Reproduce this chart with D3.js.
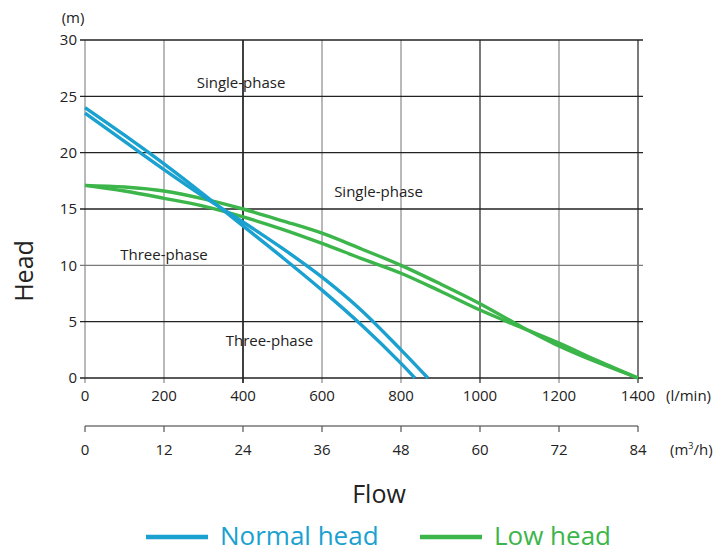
<!DOCTYPE html>
<html><head><meta charset="utf-8">
<script src="https://cdn.jsdelivr.net/npm/d3@7"></script>
<style>
body{margin:0;background:#fff;}
svg{display:block;font-family:"Open Sans",sans-serif;}
</style></head><body>
<svg id="c" width="723" height="552"></svg>
<script>
// ---- data ----
const flowTicks = [0,200,400,600,800,1000,1200,1400];
const m3hTicks = [0,12,24,36,48,60,72,84];
const headTicks = [0,5,10,15,20,25,30];
const normalA_flow = [0,100,200,300,400,500,600,700,800,835];
const normalA_head = [24,21.55,19.0,16.3,13.5,10.7,7.8,4.7,1.3,0];
const normalB_flow = [0,100,200,300,400,500,600,700,800,868];
const normalB_head = [23.5,21.0,18.5,16.1,13.85,11.5,8.95,6.0,2.5,0];
const lowA_flow = [0,100,200,300,400,500,600,700,800,900,1000,1100,1200,1300,1400];
const lowA_head = [17.1,16.95,16.6,15.9,15.0,13.95,12.85,11.45,10.0,8.35,6.6,4.65,2.85,1.35,0];
const lowB_flow = [0,100,200,300,400,500,600,700,800,900,1000,1100,1200,1300,1400];
const lowB_head = [17.1,16.6,15.95,15.25,14.3,13.2,11.95,10.6,9.3,7.7,6.03,4.55,3.1,1.5,0];
const regionLabels = [
  {text:"Single-phase", flow:395, head:26.2},
  {text:"Single-phase", flow:743, head:16.5},
  {text:"Three-phase", flow:200, head:10.9},
  {text:"Three-phase", flow:467, head:3.3}
];
const legendItems = [{name:"Normal head", color:"#1aa1cf"},{name:"Low head", color:"#3cb54a"}];

// ---- layout ----
const svg = d3.select("#c");
const L = 85, R = 638, T = 40, B = 378;
const x = d3.scaleLinear().domain([0,1400]).range([L,R]);
const x2 = d3.scaleLinear().domain([0,84]).range([L,R]);
const y = d3.scaleLinear().domain([0,30]).range([B,T]);

const darkV = new Set([400,1000,1400]);
const greyH = new Set([10]);
// vertical grid
svg.append("g").selectAll("line").data(flowTicks).join("line")
  .attr("x1",d=>x(d)).attr("x2",d=>x(d)).attr("y1",T).attr("y2",B+5)
  .attr("stroke",d=>d===400?"#111":(darkV.has(d)?"#222":"#8a8a8a"))
  .attr("stroke-width",d=>d===400?1.6:1.2);
// horizontal grid
svg.append("g").selectAll("line").data(headTicks).join("line")
  .attr("x1",L-5).attr("x2",R+5).attr("y1",d=>y(d)).attr("y2",d=>y(d))
  .attr("stroke",d=>greyH.has(d)?"#7a7a7a":"#222")
  .attr("stroke-width",1.3);

// axis labels
svg.append("g").selectAll("text").data(headTicks).join("text")
  .attr("x",L-8).attr("y",d=>y(d)).attr("dy","0.36em").attr("text-anchor","end")
  .attr("font-size",15).attr("fill","#222").text(d=>d);
svg.append("g").selectAll("text").data(flowTicks).join("text")
  .attr("x",d=>x(d)).attr("y",B+23).attr("text-anchor","middle")
  .attr("font-size",15).attr("fill","#222").text(d=>d);
svg.append("text").attr("x",R+28).attr("y",B+23).attr("font-size",15).attr("fill","#222").text("(l/min)");
svg.append("text").attr("x",73).attr("y",23).attr("text-anchor","middle").attr("font-size",15).attr("fill","#222").text("(m)");

// second axis
const ax2 = 426;
svg.append("line").attr("x1",L).attr("x2",R).attr("y1",ax2).attr("y2",ax2).attr("stroke","#777").attr("stroke-width",1.3);
svg.append("g").selectAll("line").data(m3hTicks).join("line")
  .attr("x1",d=>x2(d)).attr("x2",d=>x2(d)).attr("y1",ax2).attr("y2",ax2+6)
  .attr("stroke","#555").attr("stroke-width",1.2);
svg.append("g").selectAll("text").data(m3hTicks).join("text")
  .attr("x",d=>x2(d)).attr("y",ax2+29).attr("text-anchor","middle")
  .attr("font-size",15).attr("fill","#222").text(d=>d);
const mt = svg.append("text").attr("x",R+32).attr("y",ax2+29).attr("font-size",15).attr("fill","#222");
mt.append("tspan").text("(m");
mt.append("tspan").attr("dy",-6).attr("font-size",9).text("3");
mt.append("tspan").attr("dy",6).text("/h)");

// titles
svg.append("text").attr("transform",`translate(33,${(T+B)/2+62}) rotate(-90)`)
  .attr("text-anchor","middle").attr("font-size",25).attr("fill","#222").text("Head");
svg.append("text").attr("x",379).attr("y",503).attr("text-anchor","middle")
  .attr("font-size",25).attr("fill","#222").text("Flow");

// curves
const line = d3.line().x(d=>x(d[0])).y(d=>y(d[1])).curve(d3.curveCatmullRom.alpha(0.5));
const series = [
  {f:lowA_flow,h:lowA_head,c:legendItems[1].color},
  {f:lowB_flow,h:lowB_head,c:legendItems[1].color},
  {f:normalA_flow,h:normalA_head,c:legendItems[0].color},
  {f:normalB_flow,h:normalB_head,c:legendItems[0].color}
];
svg.append("g").selectAll("path").data(series).join("path")
  .attr("d",s=>line(s.f.map((v,i)=>[v,s.h[i]])))
  .attr("fill","none").attr("stroke",s=>s.c).attr("stroke-width",3.4);

// region labels
svg.append("g").selectAll("text").data(regionLabels).join("text")
  .attr("x",d=>x(d.flow)).attr("y",d=>y(d.head)).attr("text-anchor","middle").attr("dy","0.35em")
  .attr("font-size",15).attr("fill","#222").text(d=>d.text);

// legend
const lg = svg.append("g");
const lx = [146, 420];
legendItems.forEach((it,i)=>{
  lg.append("line").attr("x1",lx[i]).attr("x2",lx[i]+62).attr("y1",537).attr("y2",537)
    .attr("stroke",it.color).attr("stroke-width",4.5);
  lg.append("text").attr("x",lx[i]+74).attr("y",545).attr("font-size",26)
    .attr("fill",it.color).text(it.name);
});
</script></body></html>
